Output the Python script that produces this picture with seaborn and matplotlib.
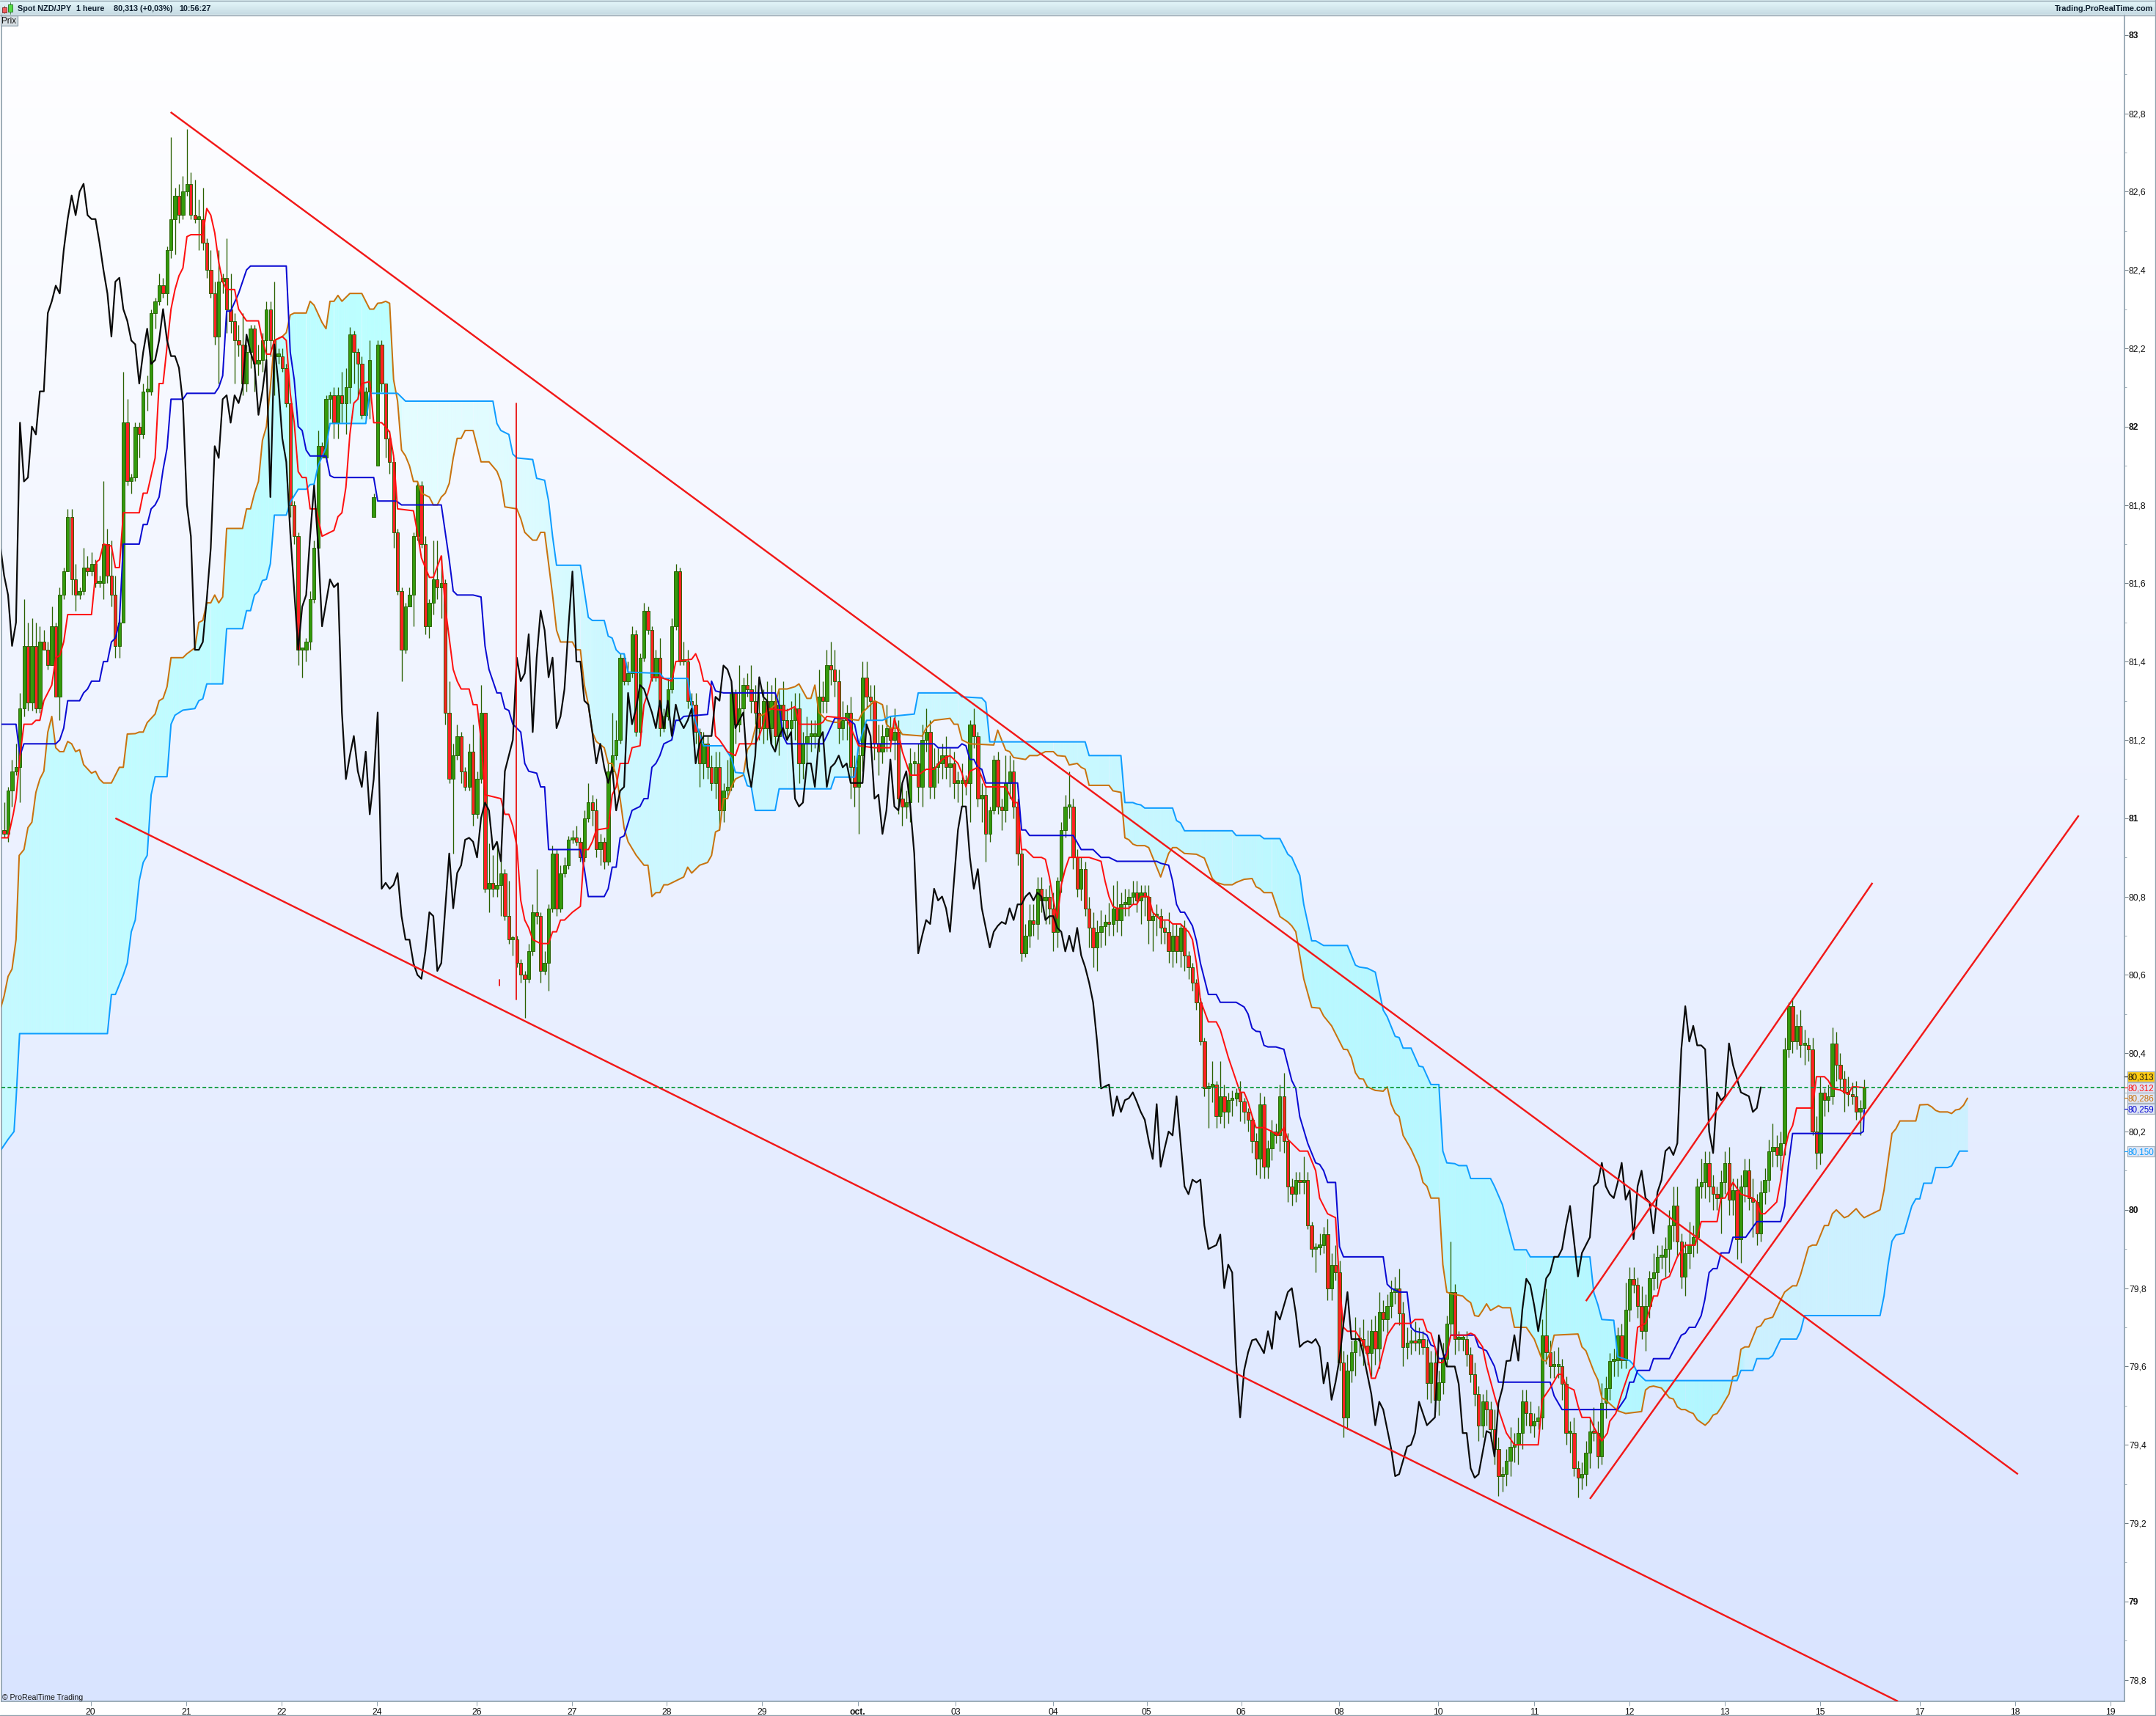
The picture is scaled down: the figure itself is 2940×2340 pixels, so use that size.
import numpy as np
import pandas as pd
import matplotlib
matplotlib.use("Agg")
import matplotlib.pyplot as plt
from matplotlib.patches import Rectangle
from matplotlib.colors import to_rgb
import seaborn as sns

# ---- candles -----------------------------------------------------------------
FIRST_CLOSES = [80.96,81.07,81.12,81.13,81.28,81.44,81.295,81.44,81.28,81.45,
                81.43,81.39,81.49,81.31,81.57,81.63,81.77,81.61,81.57,81.58,
                81.64,81.63,81.65,81.60,81.60,81.70]
LATER_CLOSES = [
 81.62,81.57,81.44,81.50,82.01,81.86,81.87,82.00,81.98,82.09,
 82.09,82.29,82.32,82.36,82.34,82.45,82.53,82.59,82.54,82.60,
 82.62,82.54,82.53,82.53,82.47,82.40,82.34,82.23,82.37,82.38,
 82.30,82.27,82.22,82.21,82.11,82.19,82.25,82.16,82.17,82.22,
 82.30,82.22,82.18,82.18,82.15,82.06,81.80,81.72,81.43,81.43,
 81.45,81.56,81.69,81.95,81.92,82.07,82.08,82.01,82.08,82.06,
 82.10,82.235,82.19,82.16,82.03,82.09,82.17,81.82,82.21,82.11,
 81.97,81.91,81.73,81.58,81.43,81.54,81.57,81.72,81.85,81.70,
 81.49,81.55,81.61,81.59,81.60,81.27,81.10,81.16,81.21,81.12,
 81.08,81.17,81.01,81.10,81.27,80.82,80.835,80.82,80.83,80.86,
 80.75,80.69,80.69,80.63,80.60,80.59,80.66,80.76,80.75,80.61,
 80.63,80.77,80.91,80.77,80.86,80.88,80.945,80.95,80.94,80.90,
 81.00,81.04,81.02,80.92,80.94,80.89,81.12,81.16,81.20,81.41,
 81.35,81.37,81.47,81.22,81.41,81.53,81.48,81.36,81.41,81.23,
 81.26,81.33,81.49,81.63,81.40,81.40,81.30,81.29,81.22,81.14,
 81.19,81.13,81.09,81.13,81.02,81.07,81.08,81.32,81.24,81.28,
 81.34,81.33,81.30,81.27,81.23,81.30,81.23,81.30,81.21,81.29,
 81.25,81.23,81.25,81.28,81.14,81.19,81.21,81.21,81.21,81.31,
 81.30,81.39,81.38,81.35,81.23,81.25,81.27,81.13,81.08,81.16,
 81.36,81.31,81.30,81.19,81.17,81.21,81.23,81.20,81.22,81.05,
 81.03,81.04,81.14,81.14,81.08,81.20,81.22,81.08,81.13,81.14,
 81.16,81.13,81.14,81.09,81.09,81.09,81.09,81.24,81.21,81.05,
 81.06,80.96,81.02,81.15,81.03,81.02,81.09,81.12,81.03,80.91,
 80.655,80.70,80.74,80.73,80.82,80.79,80.80,80.77,80.71,80.84,
 80.97,81.03,81.03,80.90,80.82,80.87,80.77,80.72,80.67,80.71,
 80.725,80.735,80.73,80.77,80.74,80.78,80.78,80.80,80.81,80.79,
 80.81,80.80,80.74,80.75,80.75,80.72,80.71,80.66,80.70,80.66,
 80.72,80.65,80.62,80.58,80.53,80.43,80.31,80.315,80.32,80.24,
 80.29,80.25,80.28,80.285,80.30,80.276,80.25,80.23,80.176,80.13,
 80.27,80.11,80.157,80.20,80.19,80.29,80.176,80.06,80.04,80.077,
 80.07,80.077,79.96,79.90,79.905,79.91,79.937,79.80,79.86,79.84,
 79.61,79.47,79.59,79.636,79.667,79.67,79.653,79.634,79.69,79.645,
 79.74,79.72,79.755,79.79,79.80,79.736,79.65,79.66,79.665,79.66,
 79.67,79.65,79.557,79.61,79.515,79.56,79.62,79.71,79.79,79.67,
 79.67,79.67,79.63,79.58,79.53,79.45,79.51,79.49,79.44,79.39,
 79.32,79.325,79.36,79.395,79.40,79.43,79.51,79.48,79.45,79.46,
 79.47,79.68,79.636,79.60,79.60,79.60,79.555,79.43,79.43,79.34,
 79.316,79.325,79.38,79.435,79.43,79.37,79.507,79.545,79.614,79.615,
 79.68,79.615,79.745,79.824,79.808,79.755,79.69,79.755,79.825,79.84,
 79.88,79.88,79.90,79.96,80.01,79.92,79.83,79.89,79.91,79.93,
 80.06,80.07,80.12,80.06,80.04,80.03,80.07,80.12,80.026,80.05,
 79.925,80.06,80.10,80.03,80.02,79.94,80.045,80.076,80.15,80.16,
 80.14,80.17,80.41,80.52,80.43,80.47,80.42,80.42,80.41,80.20,
 80.145,80.30,80.28,80.29,80.425,80.37,80.335,80.30,80.295,80.29,
 80.25,80.26,80.313]
FIRST_OPEN = 80.97
GAP_OPENS = {93: 81.77, 94: 81.90}
# wick lengths beyond the body, in hundredths of a yen
WICK_UP = [
 7,1,3,6,4,12,6,7,6,4,3,2,5,1,2,
 1,2,2,4,1,5,3,3,1,2,16,4,9,5,1,
 13,6,1,1,1,2,4,1,1,3,2,1,21,2,3,
 4,14,3,9,5,8,1,5,3,8,1,10,9,2,4,
 8,2,1,1,4,2,2,2,15,2,2,1,0,1,1,
 0,1,2,2,4,1,1,1,2,2,6,5,2,1,1,
 2,1,5,1,1,1,0,2,1,1,1,1,2,1,1,
 1,2,1,10,10,7,1,8,3,3,1,1,2,7,2,
 7,0,10,7,11,5,1,9,1,1,1,1,2,2,11,
 1,3,1,2,1,2,2,1,2,3,1,2,5,2,3,
 2,1,2,11,5,1,1,3,2,1,1,2,1,1,2,
 5,2,3,2,2,1,5,3,2,3,1,3,2,3,4,
 4,2,7,3,1,11,2,3,6,4,5,3,5,4,6,
 4,6,3,5,4,4,3,5,4,4,7,4,4,6,5,
 3,5,2,4,3,3,4,4,3,4,5,3,6,3,6,
 3,4,3,4,3,5,4,6,3,5,4,3,5,4,3,
 3,5,2,1,4,1,3,2,1,1,2,2,7,4,3,
 2,1,3,4,4,3,3,2,3,4,1,2,3,9,2,
 2,3,2,3,4,3,4,2,5,6,7,3,4,2,3,
 3,2,2,3,1,3,2,2,5,3,3,1,2,1,1,
 1,1,1,1,6,1,9,3,2,2,1,3,1,1,1,
 2,3,2,2,3,2,3,6,2,2,2,2,6,2,1,
 1,3,2,4,3,5,3,3,4,3,6,3,5,4,3,
 4,5,3,3,3,3,5,3,4,3,5,3,2,2,3,
 4,3,4,2,13,2,2,1,2,2,3,2,2,3,2,
 5,3,2,3,5,3,4,3,3,3,2,3,4,12,3,
 4,5,2,2,3,4,2,3,3,3,6,3,5,3,2,
 3,2,3,7,3,3,2,5,3,2,5,3,3,3,4,
 5,5,2,3,6,3,2,6,3,3,3,2,3,3,4,
 3,3,3,3,3,5,2,3,3,3,6,3,3,3,1,
 2,3,4,4,2,3,4,4,1,3,4,3,3,2,4,3,4,2,2]
WICK_DOWN = [
 1,2,4,1,9,2,2,2,1,1,0,1,0,0,6,
 1,0,4,4,1,1,1,1,1,1,4,2,3,3,3,
 0,1,3,1,6,1,5,1,4,1,1,3,2,9,2,
 1,1,1,1,8,2,2,1,2,12,3,6,3,11,3,
 3,2,4,7,3,3,6,4,10,2,1,1,3,2,4,
 7,3,2,1,0,0,1,5,4,4,5,8,4,8,9,
 1,1,7,0,0,2,5,3,4,1,8,1,0,8,1,
 1,2,3,3,3,8,3,1,19,1,3,1,1,3,1,
 1,1,6,2,2,8,1,1,4,1,2,10,1,1,2,
 3,1,7,1,2,1,1,1,1,1,1,1,1,4,2,
 4,2,1,1,1,1,1,1,1,1,1,1,1,1,1,
 2,1,1,1,1,1,1,2,2,3,6,4,3,2,4,
 5,3,2,1,5,2,3,2,3,3,3,4,3,4,3,
 5,4,3,4,5,5,4,5,4,3,4,3,3,4,4,
 4,3,5,8,5,12,4,3,5,4,6,3,4,3,5,
 4,5,3,5,3,4,5,3,3,3,4,4,3,5,4,
 5,6,3,10,3,2,6,7,2,1,2,5,3,4,3,
 3,2,1,3,3,4,3,6,4,5,4,3,2,3,3,
 2,3,2,5,5,6,4,5,3,3,3,4,3,3,2,
 3,6,5,6,8,5,4,3,3,4,3,4,4,3,2,
 2,1,2,10,4,3,2,4,3,4,2,5,3,3,3,
 4,5,3,3,3,2,4,3,4,3,2,3,3,1,2,
 6,2,2,3,3,2,2,5,3,3,6,4,5,3,6,
 4,5,3,4,3,3,3,5,3,3,2,3,2,4,5,
 3,4,3,2,3,4,3,3,3,2,3,4,3,4,3,
 4,5,4,3,4,4,5,4,3,2,3,2,3,3,3,
 3,3,4,3,5,2,5,3,3,4,2,3,2,4,3,
 4,4,2,2,3,2,3,2,5,3,3,4,3,5,6,
 4,4,3,5,4,3,4,3,4,4,4,3,9,3,4,
 4,5,6,4,3,9,3,2,3,3,4,3,4,3,2,
 3,2,3,5,3,1,4,3,4,3,2,4,3,5,3,2,2,6,1]
CHIKOU_SHIFT = 26

# ---- indicator lines: bar number and price at each vertex ---------------------
TENKAN_BAR = [-1,1,2.3,3,4,5,7,8,9,10,12,13,14,15,16,22,23.3,24,25,27,28,29,30,34,35,36,37,38,39,40,42,43,44,45,46,47,50,51,52,53,54,55,56,58,59,61,64,65,66,67,68,70,71,72,73,74,75,76,77,78.5,80,82,83,84,85,86,87,88,89,90,92,93,95,96,97,98,99,103,104,105,107,108,110,111,112,113,114,115,117,118,119,120,121,125,126,127,128,129,130,131,132,133,135,137,138,139,140,141,143,145,146,147,148,149,152,153,154,155,157,158,160,161,162,163,165,168,169,173,174,175,176,177,178,179,180,182,184,185,189,190,191,192,197,199,200,205,206,207,212,215,219,223,224,225,226,228,230,232,234,236,238,240,241,242,243,245,247,252,254,255,256,257,259,261,262,263,264,265,266,267,268,273,276,277,278,279,280,283,284,285,286,288,289,291,293,294,296,298,299,300,301,303,305,306,308,311,312,313,314,315,317,319,320.5,322,323,324,326,328,330,331,332,333,335,336,337,338,340,341,342,343,344,345,346,348,350,354,355,357,358,359,360,361,362,363,364,368,369,370,372,373,375,376,378,380,382,385,386,387,389,391,392,393,395,396,397,399,400,402,403.4,404,405.5,407,409,410,411,413,415,416,417,419,421,423,425.5,427,431,432,433,435,437,440,441,442,443,446,447,448,449,450,451,455,456,458,459,460,462,464,465,466,468]
TENKAN_PRICE = [80.95,80.95,81.01,81.05,81.16,81.24,81.24,81.25,81.25,81.30,81.34,81.41,81.415,81.45,81.52,81.52,81.655,81.66,81.70,81.695,81.64,81.64,81.78,81.78,81.83,81.83,81.875,81.92,82.11,82.11,82.30,82.35,82.385,82.405,82.485,82.49,82.49,82.557,82.54,82.495,82.42,82.37,82.35,82.35,82.30,82.27,82.27,82.22,82.185,82.185,82.22,82.23,82.22,82.085,82.01,81.885,81.87,81.87,81.79,81.79,81.72,81.73,81.735,81.77,81.78,81.845,81.98,82.06,82.07,82.11,82.115,82.01,82.01,82.00,81.985,81.925,81.79,81.785,81.73,81.665,81.615,81.615,81.67,81.54,81.46,81.38,81.35,81.33,81.33,81.29,81.29,81.20,81.06,81.05,81.01,81.01,80.98,80.93,80.79,80.74,80.72,80.69,80.68,80.68,80.71,80.71,80.74,80.74,80.76,80.775,80.92,80.92,80.94,80.97,80.975,81.06,81.08,81.14,81.14,81.18,81.185,81.29,81.32,81.36,81.36,81.35,81.40,81.406,81.42,81.395,81.35,81.35,81.335,81.21,81.20,81.17,81.16,81.19,81.19,81.21,81.24,81.28,81.275,81.285,81.24,81.24,81.245,81.26,81.255,81.185,81.18,81.18,81.255,81.22,81.17,81.11,81.11,81.125,81.125,81.15,81.16,81.14,81.115,81.08,81.12,81.13,81.08,81.08,81.04,81.04,80.92,80.92,80.90,80.90,80.895,80.85,80.79,80.745,80.83,80.87,80.90,80.90,80.89,80.84,80.80,80.775,80.77,80.77,80.78,80.78,80.80,80.80,80.76,80.74,80.74,80.73,80.73,80.71,80.69,80.63,80.535,80.48,80.48,80.46,80.39,80.30,80.30,80.275,80.24,80.21,80.21,80.20,80.19,80.21,80.18,80.17,80.15,80.15,80.10,80.03,80.01,79.99,79.98,79.81,79.70,79.69,79.69,79.675,79.66,79.63,79.57,79.57,79.60,79.68,79.71,79.71,79.72,79.72,79.69,79.685,79.65,79.61,79.61,79.63,79.68,79.68,79.685,79.68,79.65,79.60,79.525,79.49,79.43,79.40,79.40,79.40,79.40,79.515,79.545,79.58,79.58,79.55,79.54,79.50,79.47,79.47,79.445,79.41,79.43,79.46,79.48,79.53,79.59,79.60,79.70,79.71,79.78,79.78,79.82,79.83,79.88,79.91,79.91,79.97,79.97,80.03,80.03,80.07,80.04,80.03,80.02,79.99,79.99,80.02,80.075,80.15,80.195,80.215,80.26,80.26,80.34,80.34,80.33,80.31,80.306,80.295,80.314,80.314,80.312]

KIJUN_BAR = [-1,3,4,5,13,14,15,16,19,20,21,22,24,25,26,27,28,29,30,34,35,36,37,38,39,40,41,42,45,46,53,54,55,56,57,59,60,61,62,71,72,73,74,75,76,77,81,82,83,93,94,98.7,100,110,111,112,113,114,118,120,121,122,124,125,126,127,128,129,130,131,132,134,135,136,137,138,145,146,147,151,152,153,154,155,156,158,160,161,162,163,164,165,166,168,169,170,171,177,178,179,181,194,195,196,197,206,207,209,212,214,215,232,234,235,240,241,242,243,244,245,246,247,255,256,257,258,269,271,274,276,278,280,283,290,291,293,294,295,296,297,299,300,301,303,305,306,310,312,313,314,315,316,317,318,320,322,323,324,325,326,328,330,331,332,333,335,336,337,347,348,349,351,353,354,355,357,358,359,360,361,362,363,364,370,371,373,375,376,389,390,392,406,408,409,410,411,414,415,419,421,422,423,424,425.5,427,427.9,429,430,431,432,434,435,438.2,441,447,448,448.9,450,467,467.8,468]
KIJUN_PRICE = [81.24,81.24,81.16,81.19,81.19,81.20,81.23,81.30,81.30,81.32,81.33,81.35,81.35,81.40,81.40,81.45,81.46,81.50,81.70,81.70,81.75,81.75,81.79,81.80,81.82,81.89,81.945,82.07,82.07,82.085,82.085,82.10,82.13,82.295,82.295,82.34,82.37,82.40,82.41,82.41,82.19,82.12,82.00,81.99,81.94,81.925,81.925,81.875,81.87,81.87,81.81,81.81,81.80,81.80,81.73,81.66,81.58,81.57,81.57,81.565,81.44,81.38,81.32,81.32,81.28,81.275,81.24,81.23,81.22,81.14,81.12,81.115,81.08,81.08,80.92,80.92,80.92,80.87,80.80,80.80,80.82,80.875,80.875,80.95,80.955,81.02,81.03,81.05,81.05,81.13,81.14,81.16,81.19,81.20,81.25,81.25,81.26,81.265,81.35,81.325,81.32,81.32,81.29,81.21,81.19,81.19,81.21,81.255,81.255,81.24,81.19,81.19,81.19,81.18,81.18,81.19,81.185,81.15,81.15,81.13,81.125,81.09,81.09,80.97,80.97,80.956,80.956,80.92,80.92,80.90,80.90,80.89,80.89,80.89,80.885,80.88,80.84,80.78,80.76,80.76,80.725,80.687,80.63,80.55,80.55,80.53,80.53,80.518,80.50,80.464,80.456,80.455,80.42,80.416,80.416,80.41,80.37,80.33,80.31,80.238,80.17,80.12,80.116,80.10,80.07,80.07,79.906,79.88,79.88,79.81,79.80,79.79,79.79,79.70,79.69,79.686,79.68,79.655,79.65,79.62,79.62,79.636,79.68,79.68,79.65,79.64,79.60,79.56,79.56,79.525,79.49,79.49,79.52,79.56,79.56,79.59,79.59,79.62,79.62,79.66,79.68,79.685,79.70,79.70,79.73,79.77,79.84,79.85,79.85,79.89,79.89,79.93,79.93,79.97,79.97,80.01,80.11,80.195,80.195,80.20,80.255]

SSA_BAR = [-1,0,1,2,3,3.8,5,6,7,8,9,10,11,12,13,14,15,16,17,18,19,20,22,23,24,25,27,28,29,30,31,33,34,35,36,38,39,40,41,42,45,46,48,49,50,51,52,53,54,55,56,60,61,62,63,64,65,66,67,68,70,71,72,73,76,77,78,80,81,82,83,84,85,87,88,90,92,93,94,95,96,97,98,99,100,101,102,103,104,105,107,108,109,110,111,112,113,114,115,116,118,119,120,122,124,125,126,129,130,131,133,134,135,136,137,138,139,140,141,143,144,145,146,147,148,149,151,152,153,154,155,156,157,159,161,162,163,164,165,166,167,169,171,172,173,174,175,177,178,179,180,181,182,183,184,186,187,188,189,190,192,194,195,197,199,200,202,203,204,205,207,209,210,211,215,216,217,219,221,222,223,225,226,231,232,234,238,239,240,241,243,249,250,252,253,254,257,258,260,262,264,265,267,268,270,271,272,273,278,279,280,281,282,283,284,285,287,288,291,293,294,295,297,300,302,304,305,307,309,310,312,314,315,316,317,319,321,323,324,325,326,327,329,331,332,334,337,338,339,340,341,342,343,345,347,348,349,350,351,352,354,356,357,358,359,361,362,363,364,367,368,369,370,371,372,373,374,376,377,379,380,381,383,385,387,388,389,390,396,397,398,400,401,402,403,406,408,412,413,414,415,417,419,420,421,422,423,424,425,426,428,429,430,431,432,434,435,436,437,438,439,441,442,443,445,447,448,450,451,452,454,455,456,458,459,460,461,463,464,466,467,468,472,473,475,476,477,481,482,484,485,486,487,489,490,491,492,493,494]
SSA_PRICE = [80.51,80.546,80.596,80.615,80.69,80.905,80.92,80.976,80.99,81.066,81.10,81.12,81.22,81.26,81.18,81.17,81.17,81.196,81.19,81.17,81.175,81.137,81.115,81.12,81.10,81.09,81.09,81.11,81.13,81.13,81.215,81.216,81.22,81.22,81.244,81.266,81.30,81.306,81.336,81.41,81.41,81.42,81.435,81.50,81.505,81.55,81.55,81.57,81.55,81.565,81.74,81.74,81.79,81.79,81.83,81.86,81.965,82.00,82.10,82.22,82.23,82.24,82.285,82.29,82.29,82.32,82.31,82.266,82.25,82.32,82.32,82.335,82.32,82.34,82.34,82.34,82.30,82.30,82.315,82.316,82.32,82.315,82.12,82.065,81.94,81.925,81.90,81.86,81.86,81.83,81.82,81.80,81.80,81.82,81.83,81.855,81.92,81.97,81.97,81.99,81.99,81.95,81.91,81.91,81.886,81.86,81.795,81.79,81.765,81.73,81.71,81.71,81.73,81.73,81.65,81.57,81.48,81.45,81.45,81.45,81.43,81.43,81.34,81.29,81.22,81.196,81.18,81.14,81.14,81.11,81.05,80.975,80.94,80.906,80.88,80.88,80.80,80.81,80.81,80.83,80.83,80.84,80.85,80.875,80.86,80.87,80.88,80.887,80.905,80.965,80.97,81.05,81.05,81.08,81.10,81.11,81.175,81.19,81.23,81.26,81.27,81.29,81.33,81.33,81.336,81.343,81.306,81.306,81.34,81.27,81.25,81.245,81.245,81.255,81.25,81.27,81.28,81.30,81.29,81.24,81.23,81.23,81.214,81.21,81.23,81.25,81.255,81.24,81.24,81.20,81.19,81.187,81.225,81.174,81.17,81.155,81.15,81.16,81.16,81.17,81.17,81.16,81.158,81.136,81.14,81.13,81.125,81.084,81.084,81.07,81.068,81.066,80.95,80.945,80.934,80.93,80.93,80.925,80.85,80.91,80.925,80.925,80.91,80.908,80.898,80.846,80.836,80.83,80.83,80.836,80.844,80.846,80.825,80.82,80.81,80.81,80.749,80.735,80.725,80.71,80.65,80.59,80.517,80.515,80.495,80.47,80.41,80.409,80.388,80.35,80.335,80.334,80.314,80.305,80.303,80.314,80.27,80.247,80.238,80.19,80.155,80.11,80.07,80.06,80.03,80.03,79.86,79.79,79.786,79.78,79.77,79.763,79.73,79.728,79.743,79.76,79.743,79.755,79.75,79.75,79.70,79.70,79.70,79.67,79.617,79.614,79.636,79.68,79.683,79.65,79.64,79.587,79.566,79.52,79.514,79.487,79.48,79.485,79.54,79.548,79.55,79.545,79.52,79.517,79.497,79.49,79.49,79.484,79.48,79.464,79.45,79.46,79.476,79.48,79.495,79.53,79.574,79.577,79.644,79.65,79.65,79.70,79.704,79.72,79.726,79.77,79.79,79.806,79.806,79.834,79.905,79.91,79.91,79.96,79.96,79.99,80.00,79.98,79.984,80.003,79.99,79.98,80.00,80.05,80.195,80.207,80.227,80.227,80.268,80.269,80.263,80.254,80.25,80.25,80.246,80.255,80.257,80.267,80.285]

SSB_BAR = [-1,1,2.5,3,3.9,26,27,28,29,30,31,32,33,34,35,36,37,38,41,42,43,45,48,49,50,51,55,56,60,61,62,63,64,65,66,67,68,71,72,74,76,77,78,79,81,82,91,92,99,101,123,124,125,127,128,129,133,134,136,137,138,139,145,147,148,151,152,153,154,155,156,157,165,166,172,173,174,176,181,183,184,186,187,188,189,194,195,208,209,214,215,217,218,221,223,229,230,240,241,246,247,248,272,273,281,282,284,285,286,287,294,295,296,297,309,310,316,317,321,323,324,326,327,329,330,332,338,340,341,343,345,347,348,350,351,352,354,356,357,359,361,362,363,365,366,368,369,374,375,377,380,383,384,399,400,401,402,405,406,409,410,411,413,436,437,440,441,444,445,447,451,452,453,472,473,474,475,476,478,480,481,482,483,485,486,489,490,492,494]
SSB_PRICE = [80.15,80.18,80.2,80.28,80.45,80.45,80.55,80.55,80.575,80.60,80.63,80.71,80.74,80.84,80.887,80.905,81.06,81.106,81.106,81.24,81.263,81.276,81.28,81.30,81.305,81.343,81.343,81.484,81.484,81.53,81.53,81.57,81.58,81.607,81.61,81.65,81.774,81.774,81.807,81.84,81.84,81.852,81.853,81.90,81.946,82.008,82.008,82.085,82.085,82.065,82.065,82.008,81.99,81.98,81.93,81.92,81.916,81.868,81.863,81.81,81.72,81.646,81.646,81.513,81.505,81.505,81.465,81.46,81.43,81.42,81.42,81.373,81.37,81.357,81.357,81.29,81.245,81.185,81.185,81.153,81.117,81.115,81.083,81.08,81.02,81.02,81.075,81.075,81.105,81.105,81.187,81.25,81.25,81.25,81.26,81.266,81.32,81.32,81.31,81.307,81.296,81.195,81.195,81.16,81.16,81.04,81.04,81.036,81.034,81.026,81.026,80.994,80.988,80.968,80.968,80.956,80.956,80.948,80.948,80.908,80.90,80.854,80.78,80.687,80.687,80.675,80.675,80.625,80.62,80.617,80.607,80.51,80.493,80.443,80.44,80.413,80.413,80.367,80.365,80.32,80.32,80.15,80.12,80.118,80.113,80.113,80.08,80.08,80.06,80.013,79.898,79.898,79.88,79.88,79.788,79.758,79.72,79.718,79.625,79.615,79.604,79.583,79.564,79.564,79.59,79.59,79.62,79.62,79.628,79.67,79.67,79.69,79.73,79.73,79.78,79.858,79.92,79.936,79.94,80.01,80.028,80.028,80.068,80.068,80.108,80.108,80.112,80.15,80.15]

# ---- hand drawn objects -------------------------------------------------------
TREND_STARTS_BAR = [41.9, 28.0, 398.0, 399.0]
TREND_STARTS_PRICE = [82.803, 81.00, 79.767, 79.262]
TREND_ENDS_BAR = [506.7, 476.5, 470.1, 522.0]
TREND_ENDS_PRICE = [79.325, 78.745, 80.835, 81.007]
SPIKE_BAR = 128.8
SPIKE_LOW, SPIKE_HIGH = 80.537, 82.06
LAST_PRICE = 80.312

# ---- cloud shade along the bars ------------------------------------------------
CLOUD_SHADE_BARS = [-1, 98, 100, 125, 140, 150, 250, 300, 330, 400, 436, 438, 494]
CLOUD_SHADES = ['#c4faff', '#bbffff', '#e4fdff', '#e0fcff', '#d8faff', '#ccf8ff', '#ccf8ff',
                '#c4f7ff', '#b8f8ff', '#b5f8ff', '#b0f6ff', '#ccf1ff', '#ccf1ff']

# ---- axes -----------------------------------------------------------------------
X_TICK_BARS = [21.8,45.9,69.8,93.8,118.9,142.9,166.7,190.7,214.8,239.4,263.9,287.5,311.3,335.9,360.8,385,409,432.9,456.9,482,506,530]
X_TICK_LABELS = ['20','21','22','24','26','27','28','29','oct.','03','04','05','06','08','10','11','12','13','15','17','18','19']
Y_TICK_VALUES = [78.8,79,79.2,79.4,79.6,79.8,80,80.2,80.4,80.6,80.8,81,81.2,81.4,81.6,81.8,82,82.2,82.4,82.6,82.8,83]
Y_LABELS = ['78,8','79','79,2','79,4','79,6','79,8','80','80,2','80,4','80,6','80,8','81','81,2','81,4','81,6','81,8','82','82,2','82,4','82,6','82,8','83']
Y_MINOR_VALUES = [78.9,79.1,79.3,79.5,79.7,79.9,80.1,80.3,80.5,80.7,80.9,81.1,81.3,81.5,81.7,81.9,82.1,82.3,82.5,82.7,82.9]

W, H = 2940, 2340
sns.set_theme(style='white')
plt.rcParams['font.family'] = ['Liberation Sans', 'DejaVu Sans']
fig = plt.figure(figsize=(W / 100, H / 100), dpi=100, facecolor='white')

ax_left, ax_right, ax_top, ax_bottom = 2, 2897, 21, 2320
ax = fig.add_axes([ax_left / W, 1 - ax_bottom / H, (ax_right - ax_left) / W, (ax_bottom - ax_top) / H])
ax.set_xlim(-0.66, 533.5)
ax.set_ylim(78.745, 83.05)

# background gradient
grad = np.linspace(0, 1, 256)[:, None, None]
top_c, bot_c = np.array([1.0, 1.0, 1.0]), np.array([0xd9, 0xe4, 0xff]) / 255
ax.imshow(top_c + (bot_c - top_c) * grad, extent=(-0.66, 533.5, 78.745, 83.05), aspect='auto', origin='upper', zorder=0)
ax.set_xlim(-0.66, 533.5)
ax.set_ylim(78.745, 83.05)

# cloud, shaded strip by strip
grid = np.arange(-1, 494.01, 0.5)
ssa_g = np.interp(grid, SSA_BAR, SSA_PRICE)
ssb_g = np.interp(grid, SSB_BAR, SSB_PRICE)
shade_rgb = np.array([to_rgb(c) for c in CLOUD_SHADES])
for i in range(len(grid) - 1):
    c = [np.interp(grid[i], CLOUD_SHADE_BARS, shade_rgb[:, k]) for k in range(3)]
    ax.fill_between(grid[i:i + 2], ssa_g[i:i + 2], ssb_g[i:i + 2], color=c, lw=0.25, zorder=1)

# candles
closes = np.array(FIRST_CLOSES + LATER_CLOSES)
n = len(closes)
bars = np.arange(n)
opens = np.r_[FIRST_OPEN, closes[:-1]]
for k, v in GAP_OPENS.items():
    opens[k] = v
up = np.array((WICK_UP + [2] * n)[:n]) / 100
down = np.array((WICK_DOWN + [2] * n)[:n]) / 100
highs = np.maximum(opens, closes) + up
lows = np.minimum(opens, closes) - down
candles = pd.DataFrame({'bar': bars, 'open': opens, 'close': closes, 'high': highs, 'low': lows})
WICK = '#2a6000'
ax.vlines(candles.bar, candles.low, candles.high, color=WICK, lw=0.95, zorder=3)
rising = candles.close >= candles.open
for mask, col in ((rising, '#349a0c'), (~rising, '#ff2222')):
    d = candles[mask]
    ax.bar(d.bar, (d.close - d.open).abs().clip(lower=0.006), bottom=d[['open', 'close']].min(axis=1),
           width=0.8, color=col, edgecolor='#2a6408', linewidth=0.7, zorder=4)

def line(x, y, color, lw, z):
    sns.lineplot(x=x, y=y, ax=ax, color=color, linewidth=lw, sort=False, estimator=None,
                 errorbar=None, legend=False, zorder=z)

line(SSA_BAR, SSA_PRICE, '#c9720e', 1.45, 5)
line(SSB_BAR, SSB_PRICE, '#0f9dff', 1.45, 5)
line(KIJUN_BAR, KIJUN_PRICE, '#0a0ad2', 1.45, 6)
line(TENKAN_BAR, TENKAN_PRICE, '#ff1010', 1.45, 7)
chikou_x = bars[CHIKOU_SHIFT - 1:] - CHIKOU_SHIFT
line(chikou_x, closes[CHIKOU_SHIFT - 1:], '#0a0a0a', 1.6, 8)

# drawn objects
for x0, y0, x1, y1 in zip(TREND_STARTS_BAR, TREND_STARTS_PRICE, TREND_ENDS_BAR, TREND_ENDS_PRICE):
    ax.plot([x0, x1], [y0, y1], color='#f21818', lw=1.75, zorder=9, solid_capstyle='butt')
ax.plot([SPIKE_BAR, SPIKE_BAR], [SPIKE_LOW, SPIKE_HIGH], color='#e80f0f', lw=1.3, zorder=9)
ax.plot([124.6, 124.6], [80.572, 80.588], color='#ee1111', lw=1.3, zorder=9)
ax.plot([455.6, 456.4], [80.145, 80.145], color=WICK, lw=0.9, zorder=9)
ax.axhline(LAST_PRICE, color='#0c9a3c', lw=1.3, dashes=(2.8, 1.8), zorder=10)

# axes decoration
axis_col = '#8d9fac'
for s in ('top',):
    ax.spines[s].set_visible(False)
for s in ('left', 'right', 'bottom'):
    ax.spines[s].set_visible(True)
    ax.spines[s].set_color(axis_col)
    ax.spines[s].set_linewidth(1.2)
ax.grid(False)
ax.yaxis.tick_right()
ax.set_yticks(Y_TICK_VALUES)
ax.set_yticklabels(Y_LABELS)
ax.set_yticks(Y_MINOR_VALUES, minor=True)
ax.tick_params(axis='y', which='major', length=3.3, width=0.7, color='#6a7780', pad=1.0, labelsize=8.7, labelcolor='#111111', right=True)
ax.tick_params(axis='y', which='minor', length=2.0, width=0.6, color='#8d9fac', right=True)
for lab, v in zip(ax.get_yticklabels(), Y_TICK_VALUES):
    if abs(v - round(v)) < 1e-6:
        lab.set_fontweight('bold')
ax.set_xticks(X_TICK_BARS)
ax.set_xticklabels(X_TICK_LABELS)
ax.tick_params(axis='x', length=4, width=0.7, color='#8d9fac', pad=2.2, labelsize=8.7, labelcolor='#111111', bottom=True)
for lab, t in zip(ax.get_xticklabels(), X_TICK_LABELS):
    if t == 'oct.':
        lab.set_fontweight('bold')
ax.set_xlabel('')
ax.set_ylabel('')

# value boxes at right side
def px_rect(x0, y0, x1, y1, **kw):
    fig.add_artist(Rectangle((x0 / W, 1 - y1 / H), (x1 - x0) / W, (y1 - y0) / H, transform=fig.transFigure, **kw))

BOXES = [('80,313', 1468, '#111111', '#ffcc14'), ('80,312', 1483, '#ff1010', '#dfe6f5'),
         ('80,286', 1497, '#c9720e', '#dfe6f5'), ('80,259', 1512, '#0a0ad2', '#dfe6f5'),
         ('80,150', 1570, '#0f9dff', '#dfe6f5')]
for txt, yc, tc, bg in BOXES:
    px_rect(2901, yc - 7, 2937.5, yc + 7.2, facecolor=bg, edgecolor='#a9b4c0', linewidth=0.9, zorder=20)
    fig.text(2919 / W, 1 - yc / H, txt, color=tc, fontsize=8.4, ha='center', va='center_baseline', zorder=21)
    fig.add_artist(plt.Line2D([2897 / W, 2901 / W], [1 - yc / H, 1 - yc / H], color=tc, lw=0.8, transform=fig.transFigure, zorder=20))

# header
hd = fig.add_axes([0, 1 - 20.5 / H, 1, 20.5 / H])
hd.axis('off')
hd_grad = np.array([0xe8, 0xfa, 0xfd]) / 255 + (np.array([0xc6, 0xdb, 0xe3]) - np.array([0xe8, 0xfa, 0xfd])) / 255 * np.linspace(0, 1, 32)[:, None, None]
hd.imshow(hd_grad, extent=(0, W, 20.5, 0), aspect='auto', zorder=0)
hd.set_xlim(0, W); hd.set_ylim(20.5, 0)
fig.add_artist(plt.Line2D([0, 1], [1 - 20.5 / H] * 2, color=axis_col, lw=1.0, transform=fig.transFigure, zorder=30))
fig.add_artist(plt.Line2D([0, 1], [1 - 0.6 / H] * 2, color=axis_col, lw=1.0, transform=fig.transFigure, zorder=30))
for s, xt in (('Spot NZD/JPY', 24), ('1 heure', 104), ('80,313 (+0,03%)', 155), ('10:56:27', 244)):
    hd.text(xt, 11, s, fontsize=7.8, fontweight='bold', color='#102030', ha='left', va='center_baseline')
hd.text(2936, 11, 'Trading.ProRealTime.com', fontsize=7.8, fontweight='bold', color='#102030', ha='right', va='center_baseline')
hd.add_patch(Rectangle((3.5, 10), 6, 6.5, facecolor='#f06060', edgecolor='#7a2020', lw=0.6, zorder=3))
hd.plot([6.5, 6.5], [8, 18], color='#7a2020', lw=0.5, zorder=2)
hd.add_patch(Rectangle((11, 6), 6, 10, facecolor='#55dd44', edgecolor='#1f6a1f', lw=0.6, zorder=3))
hd.plot([14, 14], [3, 18.5], color='#1f6a1f', lw=0.5, zorder=2)

# Prix tab and copyright
px_rect(1, 21, 23.5, 34.5, facecolor='#d7dfe4', edgecolor='#8d9fac', linewidth=0.9, zorder=25)
fig.text(12.2 / W, 1 - 27.8 / H, 'Prix', fontsize=8.3, color='#111111', ha='center', va='center_baseline', zorder=26)
fig.text(3 / W, 1 - 2314 / H, '© ProRealTime Trading', fontsize=7.6, color='#111111', ha='left', va='center_baseline', zorder=26)

# outer bottom/right frame
fig.add_artist(plt.Line2D([0, 1], [1 - 2338.5 / H] * 2, color=axis_col, lw=1.0, transform=fig.transFigure, zorder=30))
fig.add_artist(plt.Line2D([1 - 0.7 / W] * 2, [0, 1], color=axis_col, lw=1.0, transform=fig.transFigure, zorder=30))

fig.savefig('out.png', dpi=100)
